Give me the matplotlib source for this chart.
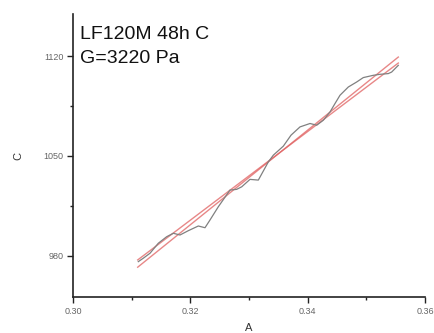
import matplotlib
matplotlib.use("Agg")
import matplotlib.pyplot as plt
from matplotlib.ticker import MultipleLocator

plt.rcParams['font.family'] = ['Liberation Sans', 'DejaVu Sans']

# measured curve
a_vals = [0.31113, 0.31198, 0.31313, 0.31454, 0.31597, 0.31710, 0.31824, 0.31965,
          0.32136, 0.32250, 0.32335, 0.32477, 0.32676, 0.32790, 0.32876, 0.33017,
          0.33159, 0.33330, 0.33415, 0.33585, 0.33716, 0.33869, 0.34040, 0.34154,
          0.34267, 0.34381, 0.34466, 0.34551, 0.34693, 0.34835, 0.34948, 0.35119,
          0.35233, 0.35374, 0.35432, 0.35545]
c_vals = [975.8, 978.2, 981.7, 988.7, 993.3, 995.7, 994.5, 997.5,
          1000.8, 999.6, 1005.0, 1014.3, 1026.0, 1026.5, 1028.3, 1033.5,
          1033.0, 1045.8, 1050.5, 1056.8, 1064.5, 1070.3, 1072.7, 1071.5,
          1075.0, 1080.8, 1086.7, 1092.5, 1098.3, 1101.8, 1104.9, 1106.5,
          1107.2, 1107.7, 1108.8, 1113.5]

# linear fits (end points)
fit_a = [0.31103, 0.35545]
fit1_c = [971.9, 1119.3]
fit2_c = [977.0, 1115.1]

title_lines = ["LF120M 48h C", "G=3220 Pa"]
x_label = "A"
y_label = "C"

fig = plt.figure(figsize=(4.35, 3.33), dpi=100)
ax = fig.add_axes([73/435, 1-297/333, (425-73)/435, (297-14)/333])

ax.plot(fit_a, fit1_c, color='#e06060', lw=1.0, alpha=0.75)
ax.plot(fit_a, fit2_c, color='#e06060', lw=1.0, alpha=0.75)
ax.plot(a_vals, c_vals, color='#808080', lw=0.9)

ax.set_xlim(0.30, 0.36)
ax.set_ylim(951, 1149.5)
ax.set_xticks([0.30, 0.32, 0.34, 0.36])
ax.set_xticklabels(["0.30", "0.32", "0.34", "0.36"])
ax.set_yticks([980, 1050, 1120])
ax.xaxis.set_minor_locator(MultipleLocator(0.01))
ax.yaxis.set_minor_locator(MultipleLocator(35))

for s in ['top', 'right']:
    ax.spines[s].set_visible(False)
for s in ['left', 'bottom']:
    ax.spines[s].set_linewidth(1.2)
    ax.spines[s].set_color('#222222')

ax.tick_params(which='major', direction='out', length=4, width=1.0, color='#222222',
               labelsize=6.5, labelcolor='#666666', pad=3)
ax.tick_params(which='minor', direction='out', length=2, width=1.0, color='#222222')

ax.set_xlabel(x_label, fontsize=8, color='#333333', labelpad=5)
ax.set_ylabel(y_label, fontsize=8, color='#333333', labelpad=14)

fig.text(80/435, 1-39/333, title_lines[0], fontsize=14, color='#111111', va='baseline')
fig.text(80/435, 1-63/333, title_lines[1], fontsize=14, color='#111111', va='baseline')

fig.savefig("out.png", dpi=100)
